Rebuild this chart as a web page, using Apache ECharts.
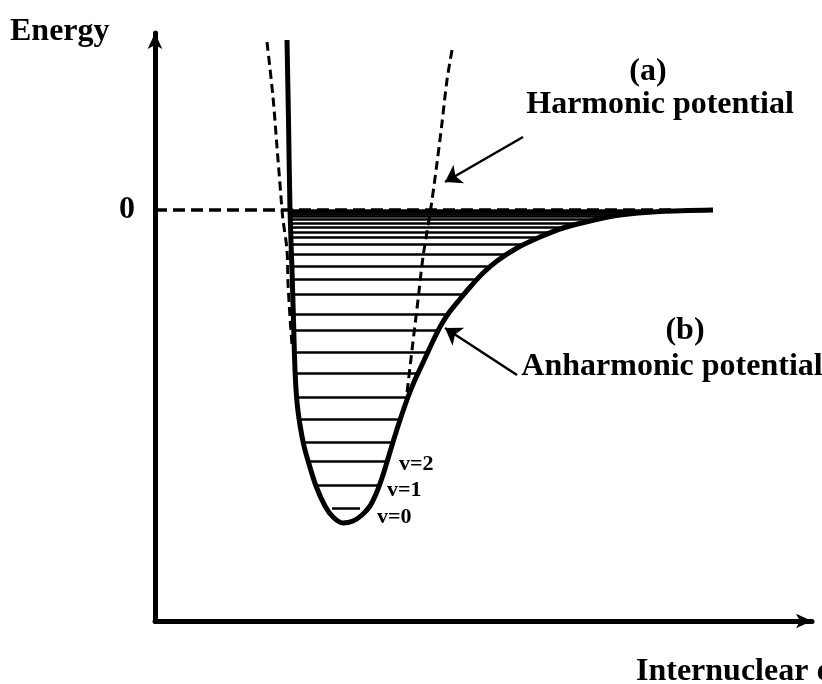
<!DOCTYPE html>
<html>
<head>
<meta charset="utf-8">
<script src="https://cdn.jsdelivr.net/npm/echarts@6/dist/echarts.min.js"></script>
<style>
html, body { margin: 0; padding: 0; background: #fff; }
#chart { width: 822px; height: 684px; }
</style>
</head>
<body>
<div id="chart"></div>
<script>
// Anharmonic (Morse-type) potential: [internuclear distance r, energy E], E = 0 at dissociation
const morseCurve = [
  [1.32, 1.70], [1.335, 0.90], [1.35, 0.00], [1.37, -0.60],
  [1.385, -1.10], [1.40, -1.60], [1.42, -1.92], [1.45, -2.15],
  [1.49, -2.36], [1.54, -2.54], [1.61, -2.76], [1.70, -2.96], [1.78, -3.07],
  [1.88, -3.13], [1.98, -3.11], [2.07, -3.05], [2.15, -2.96], [2.21, -2.84],
  [2.27, -2.68], [2.32, -2.52], [2.38, -2.32], [2.45, -2.10], [2.53, -1.87],
  [2.59, -1.72], [2.65, -1.59], [2.72, -1.44], [2.78, -1.31], [2.85, -1.17],
  [2.93, -1.04], [3.05, -0.89], [3.16, -0.76], [3.28, -0.63], [3.42, -0.51],
  [3.62, -0.38], [3.85, -0.27], [4.08, -0.18], [4.35, -0.11], [4.65, -0.05],
  [5.05, -0.015], [5.58, 0.00]
];

// Harmonic approximation, the two visible branches
const harmonicLeft = [
  [1.12, 1.68], [1.18, 1.13], [1.22, 0.63], [1.26, 0.13], [1.27, 0.00],
  [1.28, -0.10], [1.32, -0.40], [1.33, -0.73], [1.35, -1.07], [1.37, -1.35]
];
const harmonicRight = [
  [2.97, 1.60], [2.92, 1.30], [2.87, 0.87], [2.82, 0.47], [2.76, 0.03],
  [2.68, -0.47], [2.63, -0.90], [2.57, -1.40], [2.52, -1.83]
];

// Vibrational levels: energy, left turning point, right turning point
const levelEnergy = [-2.98, -2.75, -2.51, -2.32, -2.09, -1.87, -1.63, -1.42, -1.20, -1.04,
  -0.84, -0.69, -0.56, -0.44, -0.34, -0.27, -0.22, -0.17, -0.13, -0.095, -0.065, -0.04, -0.02];
const levelLeft = [1.77, 1.60, 1.54, 1.49, 1.45, 1.42, 1.40, 1.39, 1.38, 1.38,
  1.37, 1.37, 1.37, 1.36, 1.36, 1.36, 1.36, 1.36, 1.36, 1.36, 1.36, 1.36, 1.36];
const levelRight = [2.05, 2.26, 2.31, 2.37, 2.44, 2.52, 2.63, 2.71, 2.82, 2.91,
  3.07, 3.20, 3.33, 3.50, 3.68, 3.84, 3.96, 4.10, 4.24, 4.38, 4.54, 4.72, 4.92];
const levelLabels = ['v=0', 'v=1', 'v=2'];

// Dissociation limit (E = 0) and the crowded continuum edge just below it
const zeroLine = [[0, 0], [5.2, 0]];
const continuumEdge = [[1.36, -0.012], [4.9, -0.012]];
const yTickValues = [0];

// Annotation arrows: [from, to]
const arrowHarmonic = [[3.68, 0.73], [2.90, 0.28]];
const arrowAnharmonic = [[3.62, -1.65], [2.90, -1.18]];

const SERIF = "'Liberation Serif', 'Times New Roman', serif";
const chart = echarts.init(document.getElementById('chart'), null, { renderer: 'canvas' });

const axisLineStyle = {
  show: true,
  onZero: false,
  lineStyle: { color: '#000', width: 5 },
  symbol: ['none', 'arrow'],
  symbolSize: [11, 16]
};

const levelData = levelEnergy.map((e, i) => ({
  coords: [[levelLeft[i], e], [levelRight[i], e]]
}));

const bigText = (x, y, text, align) => ({
  type: 'text', x, y,
  style: {
    text, fill: '#000', font: 'bold 32px ' + SERIF,
    align: align || 'center', verticalAlign: 'middle'
  }
});
const smallText = (x, y, text) => ({
  type: 'text', x, y,
  style: {
    text, fill: '#000', font: 'bold 22px ' + SERIF,
    align: 'left', verticalAlign: 'middle'
  }
});

chart.setOption({
  animation: false,
  backgroundColor: '#fff',
  grid: { left: 155, right: 10, top: 33, bottom: 63 },
  xAxis: {
    type: 'value', min: 0, max: 6.57,
    axisLine: axisLineStyle,
    axisTick: { show: false },
    axisLabel: { show: false },
    splitLine: { show: false }
  },
  yAxis: {
    type: 'value', min: -4.11, max: 1.77,
    axisLine: axisLineStyle,
    axisTick: { show: false },
    axisLabel: {
      customValues: yTickValues,
      color: '#000', fontSize: 32, fontWeight: 'bold', fontFamily: SERIF, margin: 20,
      padding: [5, 0, 0, 0]
    },
    splitLine: { show: false }
  },
  series: [
    {
      name: 'Dissociation limit', type: 'line', data: zeroLine,
      symbol: 'none', silent: true, z: 2,
      lineStyle: { color: '#000', width: 3.5, type: [12, 6] }
    },
    {
      name: 'Continuum edge', type: 'line', data: continuumEdge,
      symbol: 'none', silent: true, z: 2,
      lineStyle: { color: '#000', width: 4 }
    },
    {
      name: 'Vibrational levels', type: 'lines', coordinateSystem: 'cartesian2d',
      data: levelData, symbol: 'none', silent: true, z: 3,
      lineStyle: { color: '#000', width: 2.5, opacity: 1 }
    },
    {
      name: 'Harmonic potential', type: 'line', data: harmonicLeft,
      symbol: 'none', smooth: 0.3, silent: true, z: 2,
      lineStyle: { color: '#000', width: 3, type: [9, 5] }
    },
    {
      name: 'Harmonic potential', type: 'line', data: harmonicRight,
      symbol: 'none', smooth: 0.3, silent: true, z: 2,
      lineStyle: { color: '#000', width: 3, type: [9, 5] }
    },
    {
      name: 'Anharmonic potential', type: 'line', data: morseCurve,
      symbol: 'none', smooth: 0.3, silent: true, z: 4,
      lineStyle: { color: '#000', width: 5, join: 'round' }
    },
    {
      name: 'Arrows', type: 'lines', coordinateSystem: 'cartesian2d',
      data: [{ coords: arrowHarmonic }, { coords: arrowAnharmonic }],
      symbol: ['none', 'arrow'], symbolSize: 16, silent: true, z: 5,
      lineStyle: { color: '#000', width: 2.5, opacity: 1 }
    }
  ],
  graphic: [
    bigText(10, 32, 'Energy', 'left'),
    bigText(648, 72, '(a)'),
    bigText(660, 105, 'Harmonic potential'),
    bigText(685, 331, '(b)'),
    bigText(672, 367, 'Anharmonic potential'),
    bigText(636, 672, 'Internuclear distance', 'left'),
    smallText(377, 517, levelLabels[0]),
    smallText(387, 490, levelLabels[1]),
    smallText(399, 464, levelLabels[2])
  ]
});
</script>
</body>
</html>
